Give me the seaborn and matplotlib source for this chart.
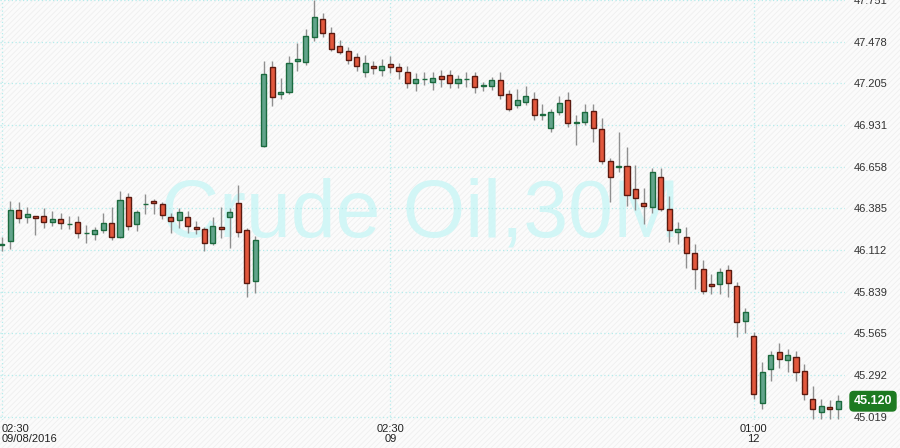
import numpy as np
import pandas as pd
import seaborn as sns
import matplotlib.pyplot as plt
from matplotlib.patches import Rectangle

# 30 minute candles, Crude Oil
opens = [46.146, 46.173, 46.372, 46.330, 46.333, 46.333, 46.297, 46.313, 46.281, 46.293,
         46.222, 46.215, 46.245, 46.287, 46.195, 46.457, 46.280, 46.411, 46.431, 46.411,
         46.326, 46.306, 46.326, 46.261, 46.247, 46.156, 46.261, 46.326, 46.418, 46.241,
         45.906, 46.796, 47.314, 47.133, 47.150, 47.353, 47.342, 47.506, 47.626, 47.533,
         47.447, 47.417, 47.377, 47.277, 47.318, 47.294, 47.330, 47.310, 47.279, 47.209,
         47.230, 47.215, 47.251, 47.257, 47.209, 47.231, 47.251, 47.190, 47.189, 47.224,
         47.133, 47.061, 47.080, 47.100, 47.000, 46.910, 47.015, 47.093, 46.943, 46.949,
         47.021, 46.903, 46.693, 46.659, 46.661, 46.510, 46.418, 46.392, 46.588, 46.379,
         46.228, 46.195, 46.090, 45.985, 45.887, 45.887, 45.979, 45.874, 45.644, 45.548,
         45.106, 45.329, 45.441, 45.388, 45.408, 45.316, 45.137, 45.047, 45.084, 45.067]
highs = [46.199, 46.433, 46.426, 46.394, 46.335, 46.387, 46.367, 46.354, 46.335, 46.335,
         46.276, 46.264, 46.356, 46.394, 46.499, 46.483, 46.372, 46.477, 46.444, 46.424,
         46.352, 46.387, 46.365, 46.300, 46.264, 46.326, 46.392, 46.387, 46.538, 46.254,
         46.201, 47.351, 47.351, 47.238, 47.384, 47.471, 47.561, 47.751, 47.668, 47.572,
         47.487, 47.443, 47.404, 47.390, 47.351, 47.364, 47.384, 47.340, 47.318, 47.270,
         47.279, 47.279, 47.292, 47.292, 47.259, 47.279, 47.279, 47.211, 47.244, 47.279,
         47.159, 47.165, 47.187, 47.148, 47.069, 47.034, 47.122, 47.146, 46.995, 47.069,
         47.069, 46.975, 46.713, 46.884, 46.785, 46.667, 46.516, 46.647, 46.647, 46.464,
         46.293, 46.261, 46.149, 46.044, 45.952, 45.992, 46.011, 45.900, 45.729, 45.576,
         45.375, 45.449, 45.500, 45.461, 45.449, 45.362, 45.222, 45.137, 45.128, 45.159]
lows = [46.107, 46.118, 46.291, 46.291, 46.212, 46.258, 46.271, 46.251, 46.247, 46.192,
        46.160, 46.177, 46.221, 46.179, 46.188, 46.241, 46.234, 46.346, 46.346, 46.313,
        46.221, 46.254, 46.221, 46.215, 46.103, 46.142, 46.192, 46.127, 46.199, 45.801,
        45.828, 46.785, 47.056, 47.104, 47.135, 47.287, 47.327, 47.484, 47.510, 47.419,
        47.397, 47.333, 47.287, 47.248, 47.268, 47.255, 47.274, 47.234, 47.176, 47.156,
        47.196, 47.163, 47.183, 47.176, 47.176, 47.183, 47.143, 47.156, 47.163, 47.104,
        47.023, 47.045, 47.061, 46.966, 46.966, 46.884, 46.995, 46.916, 46.798, 46.929,
        46.818, 46.674, 46.424, 46.625, 46.400, 46.372, 46.280, 46.352, 46.365, 46.162,
        46.149, 45.996, 45.858, 45.825, 45.825, 45.825, 45.805, 45.543, 45.565, 45.135,
        45.067, 45.255, 45.336, 45.314, 45.255, 45.128, 45.001, 45.001, 45.001, 45.001]
closes = [46.152, 46.372, 46.323, 46.348, 46.323, 46.293, 46.313, 46.291, 46.283, 46.221,
          46.224, 46.241, 46.287, 46.195, 46.438, 46.269, 46.359, 46.415, 46.418, 46.339,
          46.300, 46.359, 46.267, 46.247, 46.156, 46.267, 46.247, 46.359, 46.228, 45.893,
          46.175, 47.266, 47.117, 47.146, 47.336, 47.364, 47.513, 47.638, 47.533, 47.430,
          47.412, 47.360, 47.320, 47.336, 47.307, 47.316, 47.314, 47.287, 47.209, 47.231,
          47.232, 47.238, 47.235, 47.209, 47.231, 47.235, 47.183, 47.192, 47.224, 47.130,
          47.038, 47.093, 47.120, 46.995, 47.003, 47.015, 47.074, 46.943, 46.949, 47.015,
          46.910, 46.693, 46.588, 46.662, 46.470, 46.451, 46.398, 46.621, 46.379, 46.241,
          46.247, 46.090, 45.985, 45.845, 45.874, 45.965, 45.893, 45.642, 45.703, 45.165,
          45.314, 45.421, 45.395, 45.421, 45.310, 45.167, 45.069, 45.091, 45.067, 45.120]

price_ticks = [45.019, 45.292, 45.565, 45.839, 46.112, 46.385, 46.658, 46.931, 47.205, 47.478, 47.751]
time_tick_pos = [0, 46, 89]
time_tick_labels = ['02:30\n09/08/2016', '02:30\n09', '01:00\n12']
last_price = 45.120

df = pd.DataFrame({'open': opens, 'high': highs, 'low': lows, 'close': closes})
df['idx'] = np.arange(len(df))
df['up'] = df['close'] >= df['open']
df['bottom'] = df[['open', 'close']].min(axis=1)
df['height'] = (df['close'] - df['open']).abs().clip(lower=0.004)

sns.set_style('white')
plt.rcParams['font.family'] = ['Liberation Sans', 'DejaVu Sans']
plt.rcParams['hatch.linewidth'] = 0.6

fig = plt.figure(figsize=(9, 4.48), dpi=100, facecolor='#fbfbfb')
# faint diagonal stripes of the background
fig.patches.append(Rectangle((0, 0), 1, 1, transform=fig.transFigure, facecolor='none',
                             edgecolor='#efefef', hatch='//////', linewidth=0, zorder=-5))
ax = fig.add_axes([0, 28 / 448, 845 / 900, 420 / 448])
ax.set_facecolor('none')

ax.text(0.498, 0.487, 'Crude Oil,30M', transform=ax.transAxes, ha='center', va='center',
        fontsize=58, color='#d2f6f6', zorder=0)

green_fill, green_edge = '#62a48b', '#1b6a3e'
red_fill, red_edge = '#e2583d', '#5a1a10'

ax.vlines(df['idx'], df['low'], df['high'], color='#8f8f8f', linewidth=1, zorder=2)
up = df[df['up']]
dn = df[~df['up']]
ax.bar(up['idx'], up['height'], bottom=up['bottom'], width=0.6, color=green_fill,
       edgecolor=green_edge, linewidth=1, zorder=3)
ax.bar(dn['idx'], dn['height'], bottom=dn['bottom'], width=0.6, color=red_fill,
       edgecolor=red_edge, linewidth=1, zorder=3)

ax.set_xlim(-0.2, 99.8)
ax.set_ylim(44.997, 47.751)
for s in ax.spines.values():
    s.set_visible(False)

ax.yaxis.tick_right()
ax.set_yticks(price_ticks)
ax.set_yticklabels(['%.3f' % t for t in price_ticks])
ax.tick_params(axis='y', length=0, pad=6, labelsize=8, labelcolor='#333333')
ax.set_xticks(time_tick_pos)
ax.set_xticklabels(time_tick_labels, linespacing=0.95)
ax.tick_params(axis='x', length=0, pad=3, labelsize=8, labelcolor='#222222')
for lab in ax.get_xticklabels():
    lab.set_multialignment('center')
ax.get_xticklabels()[0].set_horizontalalignment('left')
ax.get_xticklabels()[0].set_multialignment('left')

ax.grid(True, color='#b5ecec', linestyle=(0, (1, 2)), linewidth=0.9, zorder=1)
ax.set_axisbelow(True)

ax.text(1.0 + 28 / 845, last_price, '%.3f' % last_price, transform=ax.get_yaxis_transform(),
        ha='center', va='center', fontsize=9, fontweight='bold', color='white', zorder=10,
        clip_on=False,
        bbox=dict(boxstyle='round,pad=0.3,rounding_size=0.3', facecolor='#1d7a21',
                  edgecolor='#1d7a21'))

fig.savefig('out.png', dpi=100, facecolor=fig.get_facecolor())
